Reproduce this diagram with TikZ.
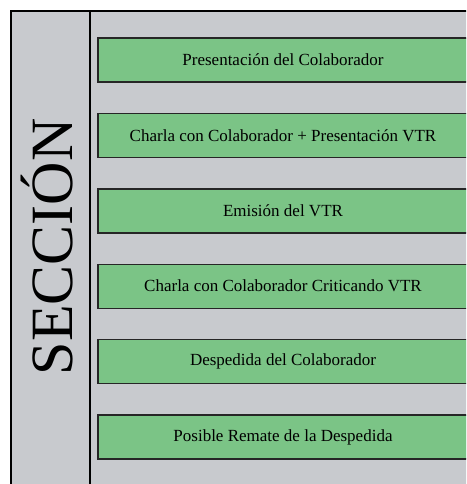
\documentclass[tikz,border=0pt]{standalone}
\usepackage{fontspec}
\setmainfont{Liberation Serif}
\definecolor{fondogris}{RGB}{200,202,206}
\definecolor{cajaverde}{RGB}{123,196,134}
\begin{document}
\begin{tikzpicture}[x=1pt,y=-1pt,paso/.style = {draw=black!85, line width=1.4pt, fill=cajaverde, minimum width=370pt, minimum height=44pt, inner sep=0pt, font=\fontsize{17}{19}\selectfont}]
\useasboundingbox (0,0) rectangle (466,484);
\clip (0,0) rectangle (466,484);
\fill[fondogris] (11,11) rectangle (480,490);
\draw[line width=1.6pt] (11,490) -- (11,11) -- (480,11);
\draw[line width=1.6pt] (90,11) -- (90,490);
\node (sec) [rotate=90,font=\fontsize{60}{62}\selectfont] at (47,247) {SECCIÓN};
\foreach \n/\txt in {1/Presentación del Colaborador,2/Charla con Colaborador + Presentación VTR,3/Emisión del VTR,4/Charla con Colaborador Criticando VTR,5/Despedida del Colaborador,6/Posible Remate de la Despedida}
\node (p\n) [paso] at (283,{60+75.4*(\n-1)}) {\txt};
\end{tikzpicture}
\end{document}
